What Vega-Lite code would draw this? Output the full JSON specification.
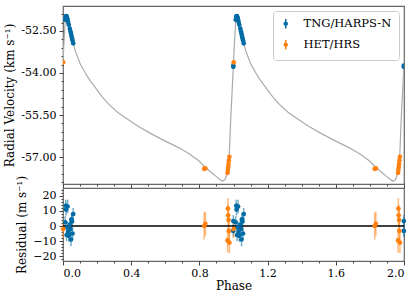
{
  "$schema": "https://vega.github.io/schema/vega-lite/v6.json",
  "padding": {"left": 3, "top": 5, "right": 13, "bottom": 2},
  "background": "white",
  "config": {
    "font": "DejaVu Serif",
    "concat": {"spacing": 4},
    "view": {"stroke": "#666", "strokeWidth": 1.2},
    "axis": {"labelFont": "DejaVu Serif", "titleFont": "DejaVu Serif", "labelFontSize": 11, "titleFontSize": 12, "titleFontWeight": "normal", "labelColor": "#000", "titleColor": "#000", "tickColor": "#444", "domain": false, "grid": false},
    "legend": {"labelFont": "DejaVu Serif", "labelFontSize": 11.5, "labelColor": "#000"}
  },
  "datasets": {
    "curve": [
      {"phase": 0.000, "rv": -53.69}, {"phase": 0.004, "rv": -53.10}, {"phase": 0.008, "rv": -52.70}, {"phase": 0.0115, "rv": -52.30},
      {"phase": 0.015, "rv": -52.05}, {"phase": 0.019, "rv": -51.96}, {"phase": 0.024, "rv": -52.03}, {"phase": 0.033, "rv": -52.26},
      {"phase": 0.045, "rv": -52.58}, {"phase": 0.059, "rv": -52.92}, {"phase": 0.072, "rv": -53.21}, {"phase": 0.100, "rv": -53.66},
      {"phase": 0.131, "rv": -54.00}, {"phase": 0.160, "rv": -54.28}, {"phase": 0.190, "rv": -54.52}, {"phase": 0.230, "rv": -54.85},
      {"phase": 0.269, "rv": -55.12}, {"phase": 0.320, "rv": -55.40}, {"phase": 0.366, "rv": -55.60}, {"phase": 0.440, "rv": -55.90},
      {"phase": 0.524, "rv": -56.19}, {"phase": 0.600, "rv": -56.43}, {"phase": 0.680, "rv": -56.67}, {"phase": 0.740, "rv": -56.88},
      {"phase": 0.798, "rv": -57.14}, {"phase": 0.837, "rv": -57.38}, {"phase": 0.870, "rv": -57.55}, {"phase": 0.896, "rv": -57.68},
      {"phase": 0.920, "rv": -57.80}, {"phase": 0.935, "rv": -57.86}, {"phase": 0.950, "rv": -57.80}, {"phase": 0.960, "rv": -57.65},
      {"phase": 0.965, "rv": -57.50}, {"phase": 0.975, "rv": -56.96}, {"phase": 0.984, "rv": -55.60}, {"phase": 0.994, "rv": -54.40},
      {"phase": 1.000, "rv": -53.69}, {"phase": 1.004, "rv": -53.10}, {"phase": 1.008, "rv": -52.70}, {"phase": 1.0115, "rv": -52.30},
      {"phase": 1.015, "rv": -52.05}, {"phase": 1.019, "rv": -51.96}, {"phase": 1.024, "rv": -52.03}, {"phase": 1.033, "rv": -52.26},
      {"phase": 1.045, "rv": -52.58}, {"phase": 1.059, "rv": -52.92}, {"phase": 1.072, "rv": -53.21}, {"phase": 1.100, "rv": -53.66},
      {"phase": 1.131, "rv": -54.00}, {"phase": 1.160, "rv": -54.28}, {"phase": 1.190, "rv": -54.52}, {"phase": 1.230, "rv": -54.85},
      {"phase": 1.269, "rv": -55.12}, {"phase": 1.320, "rv": -55.40}, {"phase": 1.366, "rv": -55.60}, {"phase": 1.440, "rv": -55.90},
      {"phase": 1.524, "rv": -56.19}, {"phase": 1.600, "rv": -56.43}, {"phase": 1.680, "rv": -56.67}, {"phase": 1.740, "rv": -56.88},
      {"phase": 1.798, "rv": -57.14}, {"phase": 1.837, "rv": -57.38}, {"phase": 1.870, "rv": -57.55}, {"phase": 1.896, "rv": -57.68},
      {"phase": 1.920, "rv": -57.80}, {"phase": 1.935, "rv": -57.86}, {"phase": 1.950, "rv": -57.80}, {"phase": 1.960, "rv": -57.65},
      {"phase": 1.965, "rv": -57.50}, {"phase": 1.975, "rv": -56.96}, {"phase": 1.984, "rv": -55.60}, {"phase": 1.994, "rv": -54.40},
      {"phase": 2.000, "rv": -53.69}
    ],
    "obs": [
      {"inst": "TNG/HARPS-N", "phase": 0.013, "rv": -52.10, "res": 2.5, "err": 4},
      {"inst": "TNG/HARPS-N", "phase": 0.016, "rv": -52.00, "res": 13.5, "err": 4},
      {"inst": "TNG/HARPS-N", "phase": 0.018, "rv": -51.97, "res": 11, "err": 4},
      {"inst": "TNG/HARPS-N", "phase": 0.021, "rv": -51.98, "res": -6, "err": 4},
      {"inst": "TNG/HARPS-N", "phase": 0.024, "rv": -52.03, "res": -1, "err": 4},
      {"inst": "TNG/HARPS-N", "phase": 0.027, "rv": -52.10, "res": 13, "err": 4.5},
      {"inst": "TNG/HARPS-N", "phase": 0.030, "rv": -52.18, "res": -4, "err": 4},
      {"inst": "TNG/HARPS-N", "phase": 0.034, "rv": -52.28, "res": -6.5, "err": 4},
      {"inst": "TNG/HARPS-N", "phase": 0.040, "rv": -52.42, "res": 1, "err": 4},
      {"inst": "TNG/HARPS-N", "phase": 0.044, "rv": -52.52, "res": -2, "err": 4},
      {"inst": "TNG/HARPS-N", "phase": 0.047, "rv": -52.60, "res": -9, "err": 4.5},
      {"inst": "TNG/HARPS-N", "phase": 0.050, "rv": -52.68, "res": 4.5, "err": 4},
      {"inst": "TNG/HARPS-N", "phase": 0.053, "rv": -52.76, "res": 3, "err": 4},
      {"inst": "TNG/HARPS-N", "phase": 0.056, "rv": -52.84, "res": -5, "err": 4},
      {"inst": "TNG/HARPS-N", "phase": 0.060, "rv": -52.94, "res": 8, "err": 4},
      {"inst": "TNG/HARPS-N", "phase": 1.013, "rv": -52.10, "res": 2.5, "err": 4},
      {"inst": "TNG/HARPS-N", "phase": 1.016, "rv": -52.00, "res": 13.5, "err": 4},
      {"inst": "TNG/HARPS-N", "phase": 1.018, "rv": -51.97, "res": 11, "err": 4},
      {"inst": "TNG/HARPS-N", "phase": 1.021, "rv": -51.98, "res": -6, "err": 4},
      {"inst": "TNG/HARPS-N", "phase": 1.024, "rv": -52.03, "res": -1, "err": 4},
      {"inst": "TNG/HARPS-N", "phase": 1.027, "rv": -52.10, "res": 13, "err": 4.5},
      {"inst": "TNG/HARPS-N", "phase": 1.030, "rv": -52.18, "res": -4, "err": 4},
      {"inst": "TNG/HARPS-N", "phase": 1.034, "rv": -52.28, "res": -6.5, "err": 4},
      {"inst": "TNG/HARPS-N", "phase": 1.040, "rv": -52.42, "res": 1, "err": 4},
      {"inst": "TNG/HARPS-N", "phase": 1.044, "rv": -52.52, "res": -2, "err": 4},
      {"inst": "TNG/HARPS-N", "phase": 1.047, "rv": -52.60, "res": -9, "err": 4.5},
      {"inst": "TNG/HARPS-N", "phase": 1.050, "rv": -52.68, "res": 4.5, "err": 4},
      {"inst": "TNG/HARPS-N", "phase": 1.053, "rv": -52.76, "res": 3, "err": 4},
      {"inst": "TNG/HARPS-N", "phase": 1.056, "rv": -52.84, "res": -5, "err": 4},
      {"inst": "TNG/HARPS-N", "phase": 1.060, "rv": -52.94, "res": 8, "err": 4},
      {"inst": "TNG/HARPS-N", "phase": 0.999, "rv": -53.78, "res": 3.3, "err": 4},
      {"inst": "TNG/HARPS-N", "phase": 0.999, "rv": -53.74, "res": -3.3, "err": 4},
      {"inst": "TNG/HARPS-N", "phase": 1.999, "rv": -53.78, "res": 3.3, "err": 4},
      {"inst": "TNG/HARPS-N", "phase": 1.999, "rv": -53.74, "res": -3.3, "err": 4},
      {"inst": "HET/HRS", "phase": 0.828, "rv": -57.42, "res": 0, "err": 9},
      {"inst": "HET/HRS", "phase": 0.835, "rv": -57.40, "res": 1.5, "err": 8},
      {"inst": "HET/HRS", "phase": 0.965, "rv": -57.56, "res": -9.6, "err": 8},
      {"inst": "HET/HRS", "phase": 0.967, "rv": -57.45, "res": 11.6, "err": 7},
      {"inst": "HET/HRS", "phase": 0.969, "rv": -57.35, "res": 7.1, "err": 7},
      {"inst": "HET/HRS", "phase": 0.971, "rv": -57.25, "res": 4, "err": 8},
      {"inst": "HET/HRS", "phase": 0.973, "rv": -57.12, "res": -3.3, "err": 8},
      {"inst": "HET/HRS", "phase": 0.976, "rv": -56.99, "res": -11.1, "err": 7},
      {"inst": "HET/HRS", "phase": 0.001, "rv": -53.62, "res": -2, "err": 6},
      {"inst": "HET/HRS", "phase": 1.828, "rv": -57.42, "res": 0, "err": 9},
      {"inst": "HET/HRS", "phase": 1.835, "rv": -57.40, "res": 1.5, "err": 8},
      {"inst": "HET/HRS", "phase": 1.965, "rv": -57.56, "res": -9.6, "err": 8},
      {"inst": "HET/HRS", "phase": 1.967, "rv": -57.45, "res": 11.6, "err": 7},
      {"inst": "HET/HRS", "phase": 1.969, "rv": -57.35, "res": 7.1, "err": 7},
      {"inst": "HET/HRS", "phase": 1.971, "rv": -57.25, "res": 4, "err": 8},
      {"inst": "HET/HRS", "phase": 1.973, "rv": -57.12, "res": -3.3, "err": 8},
      {"inst": "HET/HRS", "phase": 1.976, "rv": -56.99, "res": -11.1, "err": 7},
      {"inst": "HET/HRS", "phase": 1.001, "rv": -53.62, "res": -2, "err": 6}
    ]
  },
  "bounds": "flush",
  "spacing": 4,
  "vconcat": [
    {
      "width": 341,
      "height": 178,
      "layer": [
        {
          "data": {"name": "curve"},
          "mark": {"type": "line", "color": "#ABABAB", "strokeWidth": 1.2, "clip": true},
          "encoding": {
            "x": {"field": "phase", "type": "quantitative", "scale": {"domain": [0, 2], "nice": false},
                  "axis": {"orient": "bottom", "values": [0, 0.4, 0.8, 1.2, 1.6, 2.0], "labels": false, "title": null, "tickSize": 4}},
            "y": {"field": "rv", "type": "quantitative", "scale": {"domain": [-57.96, -51.61], "nice": false, "zero": false},
                  "axis": {"orient": "left", "values": [-52.5, -54, -55.5, -57], "labelExpr": "replace(format(datum.value, '.2f'), '\u2212', '-')", "title": "Radial Velocity (km s\u207b\u00b9)", "tickSize": 4, "labelPadding": 3}}
          }
        },
        {
          "data": {"name": "obs"},
          "mark": {"type": "point", "filled": true, "size": 22, "opacity": 1, "clip": true},
          "encoding": {
            "x": {"field": "phase", "type": "quantitative",
                  "axis": {"orient": "bottom", "values": [0.1, 0.2, 0.3, 0.5, 0.6, 0.7, 0.9, 1.0, 1.1, 1.3, 1.4, 1.5, 1.7, 1.8, 1.9], "labels": false, "title": null, "tickSize": 2}},
            "y": {"field": "rv", "type": "quantitative",
                  "axis": {"orient": "left", "values": [-51.9, -52.2, -52.8, -53.1, -53.4, -53.7, -54.3, -54.6, -54.9, -55.2, -55.8, -56.1, -56.4, -56.7, -57.3, -57.6, -57.9], "labels": false, "title": null, "tickSize": 2}},
            "color": {"field": "inst", "type": "nominal",
                      "scale": {"domain": ["TNG/HARPS-N", "HET/HRS"], "range": ["#006BA4", "#FF800E"]},
                      "legend": {"title": null, "orient": "top-right", "offset": 5, "fillColor": "white", "strokeColor": "#cccccc", "cornerRadius": 3, "padding": 7, "rowPadding": 5, "labelOffset": 12,
                                 "symbolType": "M0,-1L0,1M0.32,0A0.32,0.32,0,1,1,-0.32,0A0.32,0.32,0,1,1,0.32,0Z", "symbolSize": 90, "symbolStrokeWidth": 1.5,
                                 "encode": {"symbols": {"update": {"stroke": {"scale": "color", "field": "value"}}}}}}
          }
        }
      ],
      "resolve": {"axis": {"x": "independent", "y": "independent"}}
    },
    {
      "width": 341,
      "height": 73,
      "layer": [
        {
          "data": {"name": "obs"},
          "mark": {"type": "errorbar", "ticks": false, "thickness": 1.5, "opacity": 0.55},
          "encoding": {
            "x": {"field": "phase", "type": "quantitative", "scale": {"domain": [0, 2], "nice": false},
                  "axis": {"orient": "bottom", "values": [0, 0.4, 0.8, 1.2, 1.6, 2.0], "format": ".1f", "title": "Phase", "tickSize": 4, "titlePadding": 2}},
            "y": {"field": "res", "type": "quantitative", "scale": {"domain": [-23.3, 25.3], "nice": false, "zero": false},
                  "axis": {"orient": "left", "values": [-20, -10, 0, 10, 20], "title": "Residual (m s\u207b\u00b9)", "tickSize": 4, "labelPadding": 3}},
            "yError": {"field": "err"},
            "color": {"field": "inst", "type": "nominal", "legend": null}
          }
        },
        {
          "data": {"values": [{}]},
          "mark": {"type": "rule", "color": "black", "strokeWidth": 1.5},
          "encoding": {"y": {"datum": 0, "axis": null}}
        },
        {
          "data": {"name": "obs"},
          "mark": {"type": "point", "filled": true, "size": 22, "opacity": 1},
          "encoding": {
            "x": {"field": "phase", "type": "quantitative",
                  "axis": {"orient": "bottom", "values": [0.1, 0.2, 0.3, 0.5, 0.6, 0.7, 0.9, 1.0, 1.1, 1.3, 1.4, 1.5, 1.7, 1.8, 1.9], "labels": false, "title": null, "tickSize": 2}},
            "y": {"field": "res", "type": "quantitative",
                  "axis": {"orient": "left", "values": [-22, -18, -16, -14, -12, -8, -6, -4, -2, 2, 4, 6, 8, 12, 14, 16, 18, 22, 24], "labels": false, "title": null, "tickSize": 2}},
            "color": {"field": "inst", "type": "nominal", "legend": null}
          }
        }
      ],
      "resolve": {"axis": {"x": "independent", "y": "independent"}}
    }
  ]
}
